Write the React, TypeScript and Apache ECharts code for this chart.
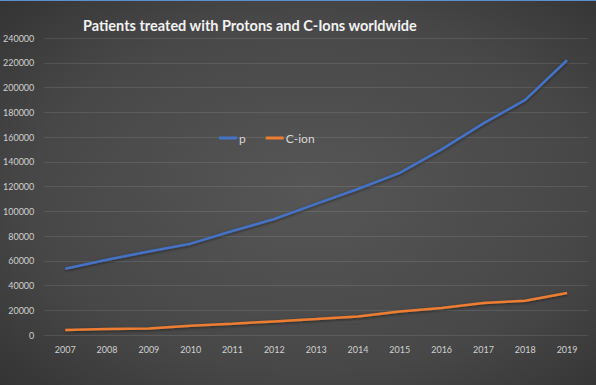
import React, { useEffect, useRef } from "react";
import * as echarts from "echarts";

const years = ["2007","2008","2009","2010","2011","2012","2013","2014","2015","2016","2017","2018","2019"];
const protons = [53500, 60800, 67500, 73800, 84000, 93700, 106000, 118000, 131000, 150000, 171000, 190000, 222000];
const carbon = [4000, 4800, 5300, 7500, 9100, 11000, 12900, 15000, 19000, 21800, 25900, 27700, 34000];
const titleText = "Patients treated with Protons and C-Ions worldwide";

export default function App() {
  const ref = useRef<HTMLDivElement>(null);
  useEffect(() => {
    const chart = echarts.init(ref.current!, undefined, { renderer: "svg" });
    chart.setOption({
      animation: false,
      backgroundColor: new echarts.graphic.RadialGradient(0.52, 0.5, 0.85, [
        { offset: 0, color: "#565656" },
        { offset: 0.55, color: "#474747" },
        { offset: 1, color: "#2a2a2a" },
      ]),
      title: {
        text: titleText,
        left: 78,
        top: 13,
        textStyle: { color: "#f2f2f2", fontFamily: "Lato", fontWeight: "bold", fontSize: 14.5 },
      },
      graphic: [
        { type: "rect", left: 0, top: 0, shape: { width: 596, height: 1 }, style: { fill: "#5b8fd0" } },
      ],
      legend: {
        left: 214,
        top: 127,
        icon: "rect",
        itemWidth: 18,
        itemHeight: 3,
        itemGap: 20,
        textStyle: { color: "#d9d9d9", fontFamily: "Lato", fontSize: 12, padding: [0, 0, 0, -3] },
        data: ["p", "C-ion"],
      },
      grid: { left: 44, right: 8, top: 38, bottom: 50, containLabel: false },
      xAxis: {
        type: "category",
        data: years,
        boundaryGap: true,
        axisLine: { show: false },
        axisTick: { show: false },
        axisLabel: { color: "#d0d0d0", fontFamily: "Lato", fontSize: 9, margin: 10 },
      },
      yAxis: {
        type: "value",
        min: 0,
        max: 240000,
        interval: 20000,
        axisLine: { show: false },
        axisTick: { show: false },
        axisLabel: { color: "#d0d0d0", fontFamily: "Lato", fontSize: 9, margin: 10, formatter: (v: number) => String(v) },
        splitLine: { lineStyle: { color: "rgba(255,255,255,0.1)", width: 1 } },
      },
      series: [
        {
          name: "p",
          type: "line",
          data: protons,
          showSymbol: false,
          symbol: "none",
          lineStyle: { color: "#4472c4", width: 2.5, shadowColor: "rgba(0,0,0,0.5)", shadowBlur: 3, shadowOffsetY: 1 },
          itemStyle: { color: "#4472c4" },
        },
        {
          name: "C-ion",
          type: "line",
          data: carbon,
          showSymbol: false,
          symbol: "none",
          lineStyle: { color: "#ed7d31", width: 2.5, shadowColor: "rgba(0,0,0,0.5)", shadowBlur: 3, shadowOffsetY: 1 },
          itemStyle: { color: "#ed7d31" },
        },
      ],
    });
    return () => chart.dispose();
  }, []);
  return (
    <div
      ref={ref}
      style={{ position: "absolute", left: 0, top: 0, width: 596, height: 385 }}
    />
  );
}
